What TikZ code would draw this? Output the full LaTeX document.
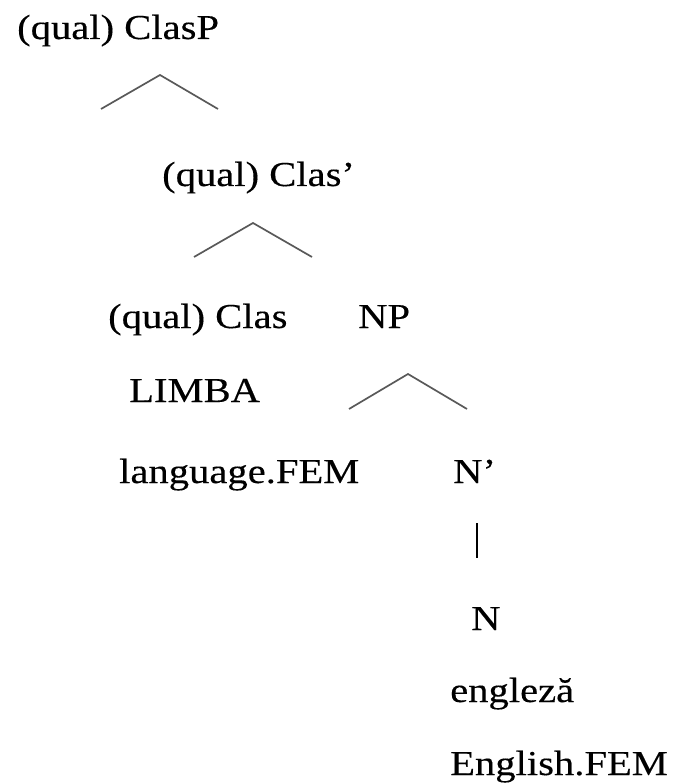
\documentclass[tikz,border=0pt]{standalone}
\usepackage{fontspec}
\setmainfont{Liberation Serif}[FakeStretch=1.16,FakeBold=0.25]
\usetikzlibrary{calc}

\begin{document}
\begin{tikzpicture}[x=1pt,y=-1pt,
  lbl/.style={anchor=base west,inner sep=0pt,font=\fontsize{35}{42}\selectfont},
  roof/.style={draw=black!65,line width=1.7pt}]
  \useasboundingbox (0,0) rectangle (677,783);
  % labels
  \node [lbl] (ClasP) at (17,39) {(qual) ClasP};
  \node [lbl] (Clasbar) at (162,186) {(qual) Clas’};
  \node [lbl] (Clas) at (108,328) {(qual) Clas};
  \node [lbl] (NP) at (358,328) {NP};
  \node [lbl] (limba) at (129,402) {LIMBA};
  \node [lbl] (language) at (119,483) {language.FEM};
  \node [lbl] (Nbar) at (453,483) {N’};
  \node [lbl] (N) at (471,630) {N};
  \node [lbl] (engleza) at (450,702) {engleză};
  \node [lbl] (english) at (450,775) {English.FEM};
  % roofs
  \coordinate (A1) at (160,75);  \coordinate (L1) at (101,109); \coordinate (R1) at (218,109);
  \coordinate (A2) at (253,223); \coordinate (L2) at (194,257); \coordinate (R2) at (312,257);
  \coordinate (A3) at (408,374); \coordinate (L3) at (349,409); \coordinate (R3) at (467,409);
  \draw [roof](L1)--(A1)--(R1);
  \draw [roof](L2)--(A2)--(R2);
  \draw [roof](L3)--(A3)--(R3);
  % unary branch
  \coordinate (T) at (477,523); \coordinate (B) at (477,558);
  \draw [line width=2.8pt](T)--(B);
\end{tikzpicture}
\end{document}
